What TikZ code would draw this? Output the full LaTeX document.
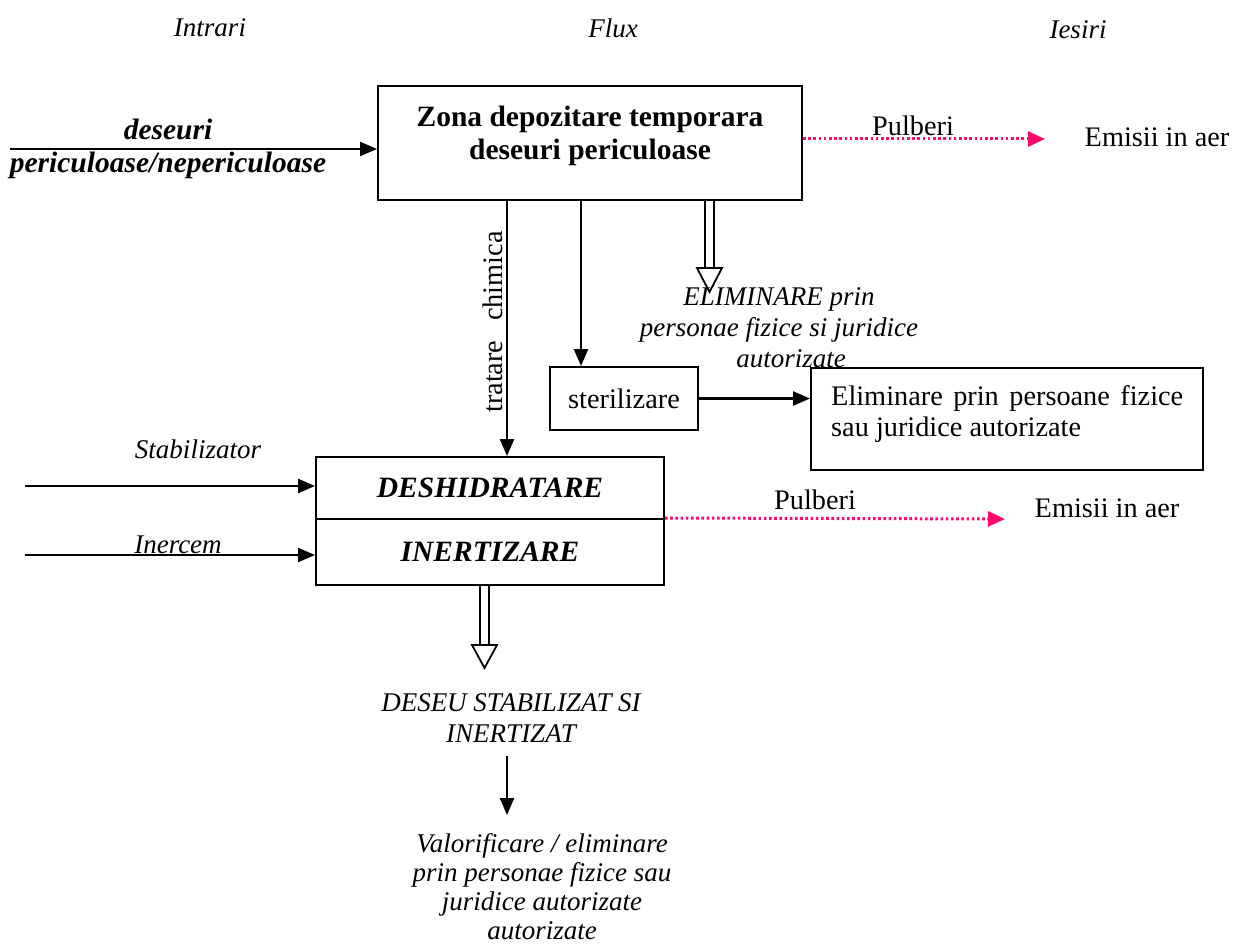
\documentclass[tikz,border=0pt]{standalone}
\usepackage{fontspec}
\setmainfont{Liberation Serif}
\usetikzlibrary{arrows.meta}
\definecolor{pulb}{HTML}{FF0A6C}
\begin{document}
\begin{tikzpicture}[x=1pt,y=-1pt,
  every node/.style={font=\fontsize{28.3}{31}\selectfont, inner sep=0pt},
  box/.style={draw, line width=2pt, inner sep=0pt},
  arr/.style={line width=2.4pt, -{Triangle[length=17pt,width=14pt]}},
  dotarr/.style={pulb, line width=3pt, dash pattern=on 2.6pt off 2.6pt, -{Triangle[length=17pt,width=15pt]}},
  dbl/.style={line width=1.8pt},
  lbl/.style={font=\fontsize{27}{31}\selectfont\itshape, align=center},
  bfi/.style={font=\fontsize{29.5}{33}\selectfont\bfseries\itshape, align=center}
]
\useasboundingbox (0,0) rectangle (1244,944);

% headers
\node[lbl] (hin) at (210,28) {Intrari};
\node[lbl] (hflux) at (613,28) {Flux};
\node[lbl] (hout) at (1078,30) {Iesiri};

% boxes
\node[box, minimum width=424pt, minimum height=114pt] (zona) at (590,143) {};
\node[font=\fontsize{29.5}{33}\selectfont\bfseries, align=center] (zonat) at (590,136) {Zona depozitare temporara\\deseuri periculoase};
\node[box, minimum width=148pt, minimum height=63pt] (ster) at (624,398.5) {sterilizare};
\node[box, minimum width=392pt, minimum height=102pt] (elim) at (1007,419) {};
\node[anchor=north west, text width=352pt, align=justify] (elimt) at (831,385) {\hyphenpenalty=10000 Eliminare prin persoane fizice sau juridice autorizate};
\node[box, minimum width=348pt, minimum height=62pt, bfi] (desh) at (490,488) {DESHIDRATARE};
\node[box, minimum width=348pt, minimum height=66pt, bfi] (inert) at (490,552) {INERTIZARE};

% input arrow
\coordinate (in1) at (10,149);
\draw[arr] (in1) -- (zona.west |- in1);
\node[bfi] (inlbl) at (168,149) {deseuri\\periculoase/nepericuloase};

% pulberi top
\coordinate (p1) at (1045,139);
\draw[dotarr] (zona.east |- p1) -- (p1);
\node (pul1) at (913,126) {Pulberi};
\node (em1) at (1157,137) {Emisii in aer};

% tratare chimica
\coordinate (tc) at (507,0);
\draw[arr] (zona.south -| tc) -- (desh.north -| tc);
\node[rotate=90] (tct) at (493,322) {tratare\hspace{0.7em}chimica};

% to sterilizare
\coordinate (sc) at (581,0);
\draw[arr] (zona.south -| sc) -- (ster.north -| sc);
\draw[arr] (ster.east) -- (elim.west |- ster.east);

% double arrow eliminare
\coordinate (d1) at (705,268);
\coordinate (d2) at (714,268);
\draw[dbl] (zona.south -| d1) -- (d1);
\draw[dbl] (zona.south -| d2) -- (d2);
\draw[dbl, fill=white] (697,268) -- (722,268) -- (709.5,292) -- cycle;
\node[lbl] (elab) at (779,328) {ELIMINARE prin\\personae fizice si juridice\\\hspace*{24pt}autorizate};

% inputs
\coordinate (st0) at (25,486);
\draw[arr] (st0) -- (desh.west |- st0);
\node[lbl] (stl) at (198,449) {Stabilizator};
\coordinate (ic0) at (25,555);
\draw[arr] (ic0) -- (inert.west |- ic0);
\node[lbl] (icl) at (178,545) {Inercem};

% pulberi 2
\coordinate (p2) at (1005,519);
\draw[dotarr] (inert.north east) -- (p2);
\node (pul2) at (815,500) {Pulberi};
\node (em2) at (1107,508) {Emisii in aer};

% double arrow bottom
\coordinate (e1) at (480,645);
\coordinate (e2) at (489,645);
\draw[dbl] (inert.south -| e1) -- (e1);
\draw[dbl] (inert.south -| e2) -- (e2);
\draw[dbl, fill=white] (472,645) -- (497,645) -- (484.5,668) -- cycle;

\node[lbl] (deseu) at (511,718) {DESEU STABILIZAT SI\\INERTIZAT};
\coordinate (v0) at (507,756);
\coordinate (v1) at (507,815);
\draw[arr] (v0) -- (v1);
\node[font=\fontsize{27}{29}\selectfont\itshape, align=center] (val) at (542,887) {Valorificare / eliminare\\prin personae fizice sau\\juridice autorizate\\autorizate};
\end{tikzpicture}
\end{document}
